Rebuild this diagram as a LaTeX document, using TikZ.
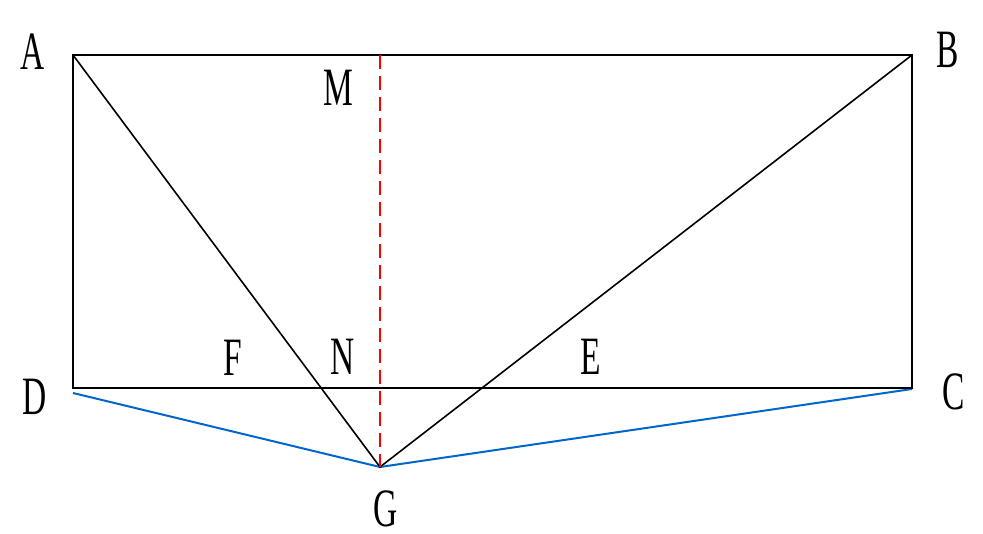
\documentclass[tikz,border=0pt]{standalone}
\usepackage{fontspec}
\setmainfont{Liberation Serif}[FakeStretch=0.62]
\begin{document}
\begin{tikzpicture}[x=1pt,y=-1pt,
  lbl/.style={inner sep=0pt,font=\fontsize{54}{54}\selectfont},
  edge/.style={line width=2pt,black},
  blueline/.style={line width=2pt,color={rgb,255:red,0;green,102;blue,204}},
  redline/.style={line width=2.4pt,red,dash pattern=on 14pt off 7pt}]
\useasboundingbox (0,0) rectangle (983,534);
\coordinate (A) at (73,55);
\coordinate (B) at (912,55);
\coordinate (C) at (912,388);
\coordinate (D) at (73,388);
\coordinate (D2) at (73,393);
\coordinate (C2) at (912,389);
\coordinate (G) at (380,467);
\coordinate (M) at (380,55);
\draw[blueline] (D2) -- (G) -- (C2);
\draw[edge] (A) -- (B) -- (C) -- (D) -- cycle;
\draw[edge,line width=1.6pt] (A) -- (G) -- (B);
\draw[redline] (M) -- (G);
\node[lbl] (lA) at (33,52) {A};
\node[lbl] (lB) at (948,50) {B};
\node[lbl] (lC) at (954,392) {C};
\node[lbl] (lD) at (35,397) {D};
\node[lbl] (lG) at (386,509) {G};
\node[lbl] (lM) at (338,88) {M};
\node[lbl] (lN) at (343,357) {N};
\node[lbl] (lF) at (233,358) {F};
\node[lbl] (lE) at (591,357) {E};
\end{tikzpicture}
\end{document}
